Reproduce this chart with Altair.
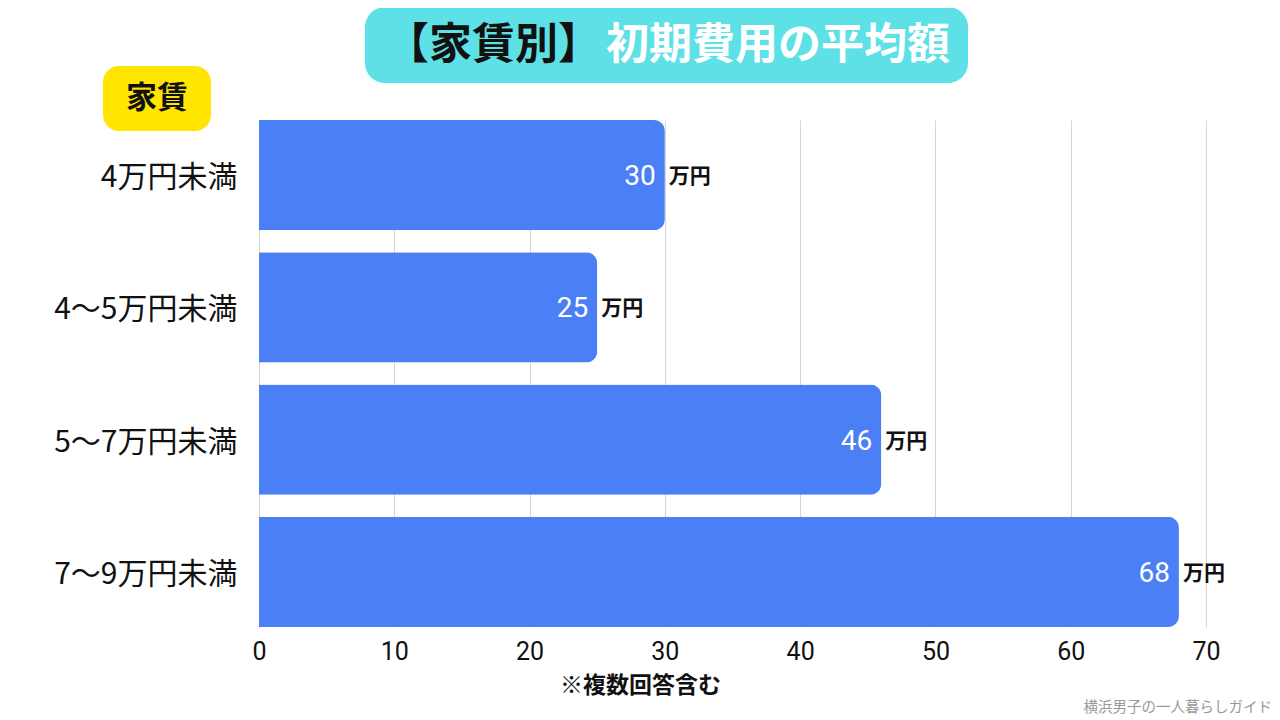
import altair as alt
import pandas as pd

categories = ["4万円未満", "4〜5万円未満", "5〜7万円未満", "7〜9万円未満"]
values = [30, 25, 46, 68]
x_ticks = [0, 10, 20, 30, 40, 50, 60, 70]
unit = "万円"
title_black = "【家賃別】"
title_white = "初期費用の平均額"
badge_text = "家賃"
note_text = "※複数回答含む"
credit_text = "横浜男子の一人暮らしガイド"

df = pd.DataFrame({"cat": categories, "val": values})

JP = "Noto Sans CJK JP"
W, H = 947, 507

x_enc = alt.X(
    "val:Q",
    scale=alt.Scale(domain=[0, 70], nice=False, zero=True),
    axis=alt.Axis(
        values=x_ticks, title=None, domain=False, ticks=False, grid=True,
        gridColor="#d6d6d6", gridWidth=1, labelFont="Roboto", labelFontSize=25,
        labelColor="#111111", labelPadding=12, labelFlush=False,
    ),
)
y_enc = alt.Y(
    "cat:N", sort=categories,
    scale=alt.Scale(paddingInner=0.167, paddingOuter=0),
    axis=alt.Axis(
        title=None, domain=False, ticks=False, grid=False, labelFont=JP,
        labelFontSize=30, labelColor="#111111", labelPadding=22, labelOffset=3,
        labelLimit=400,
    ),
)

base = alt.Chart(df)
bars = base.mark_bar(color="#4B7FF6", cornerRadiusEnd=11).encode(x=x_enc, y=y_enc)
vals = base.mark_text(align="right", baseline="middle", dx=-9, dy=2, color="white",
                      font="Roboto", fontSize=28).encode(x="val:Q", y=alt.Y("cat:N", sort=categories), text="val:Q")
units = base.mark_text(align="left", baseline="middle", dx=4, dy=2, color="#111111",
                       font=JP, fontWeight="bold", fontSize=21).encode(
    x="val:Q", y=alt.Y("cat:N", sort=categories), text=alt.value(unit))

one = alt.Data(values=[{}])
title_box = alt.Chart(one).mark_rect(color="#5DE1E6", cornerRadius=20).encode(
    x=alt.value(106), x2=alt.value(709), y=alt.value(-113), y2=alt.value(-37))
t1 = alt.Chart(one).mark_text(align="right", baseline="middle", font=JP, fontWeight="bold",
                              fontSize=43, color="#111111").encode(
    x=alt.value(342), y=alt.value(-74), text=alt.value(title_black))
t2 = alt.Chart(one).mark_text(align="left", baseline="middle", font=JP, fontWeight="bold",
                              fontSize=43, color="white").encode(
    x=alt.value(347), y=alt.value(-74), text=alt.value(title_white))
badge = alt.Chart(one).mark_rect(color="#FFE500", cornerRadius=16).encode(
    x=alt.value(-156), x2=alt.value(-48), y=alt.value(-54), y2=alt.value(11))
badge_t = alt.Chart(one).mark_text(align="center", baseline="middle", font=JP, fontWeight="bold",
                                   fontSize=31, color="#111111").encode(
    x=alt.value(-102), y=alt.value(-21), text=alt.value(badge_text))
note = alt.Chart(one).mark_text(align="left", baseline="middle", font=JP, fontWeight="bold",
                                fontSize=23, color="#111111").encode(
    x=alt.value(301), y=alt.value(566), text=alt.value(note_text))
credit = alt.Chart(one).mark_text(align="right", baseline="middle", font=JP,
                                  fontSize=14.5, color="#999999").encode(
    x=alt.value(1013), y=alt.value(588), text=alt.value(credit_text))

chart = alt.layer(title_box, t1, t2, badge, badge_t, bars, vals, units, note, credit).properties(
    width=W, height=H,
    autosize=alt.AutoSizeParams(type="none"),
    padding={"left": 251, "top": 112, "right": 66, "bottom": 90},
).configure(background="white", view=alt.ViewConfig(stroke=None))

chart.save("out.html", embed_options={"renderer": "svg", "actions": False})
